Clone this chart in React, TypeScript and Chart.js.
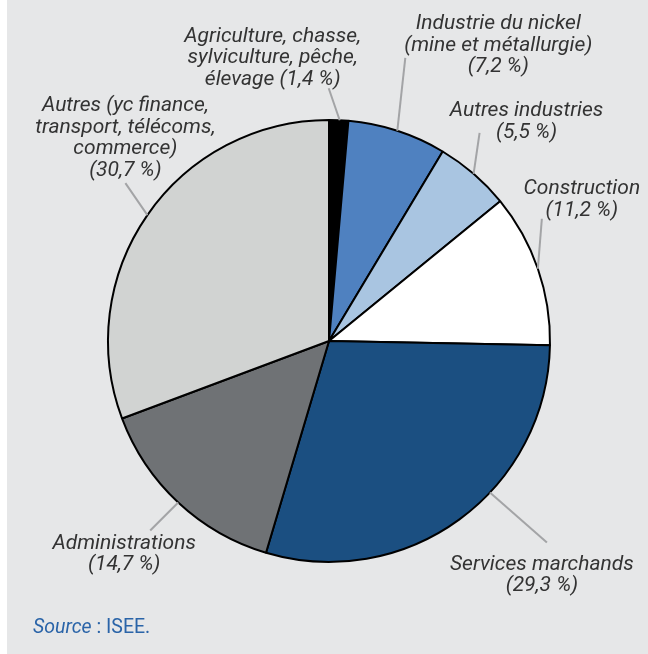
import React, { useEffect, useRef } from "react";
import { Chart, registerables } from "chart.js";

Chart.register(...registerables);

const categories: string[][] = [
  ["Agriculture, chasse,", "sylviculture, pêche,", "élevage (1,4 %)"],
  ["Industrie du nickel", "(mine et métallurgie)", "(7,2 %)"],
  ["Autres industries", "(5,5 %)"],
  ["Construction", "(11,2 %)"],
  ["Services marchands", "(29,3 %)"],
  ["Administrations", "(14,7 %)"],
  ["Autres (yc finance,", "transport, télécoms,", "commerce)", "(30,7 %)"],
];
const values: number[] = [1.4, 7.2, 5.5, 11.2, 29.3, 14.7, 30.7];
const colors: string[] = ["#000000", "#4f81c0", "#a9c5e1", "#ffffff", "#1b4f81", "#6f7275", "#d1d3d2"];

// layout of leader lines / labels (position along slice, line vector, text offset from line end)
const anchorT: number[] = [0.55, 0.5, 0.5, 0.5, 0.4, 0.5, 0.5];
const lineVec: number[][] = [[-11, -32], [8, -73], [6, -41], [4, -50], [57, 50], [-28, 28], [-22, -32]];
const textOff: number[][] = [[-56, -52], [93, -34], [47, -22], [40, -30], [-5, 22], [-26, 13], [0, -77]];
const LINE_H = 21.5;

const labelPlugin = {
  id: "leaderLabels",
  afterDraw(chart: any) {
    const ctx = chart.ctx;
    const meta = chart.getDatasetMeta(0);
    ctx.save();
    meta.data.forEach((arc: any, i: number) => {
      const p = arc.getProps(["x", "y", "startAngle", "endAngle", "outerRadius"], true);
      const a = p.startAngle + anchorT[i] * (p.endAngle - p.startAngle);
      const sx = p.x + p.outerRadius * Math.cos(a);
      const sy = p.y + p.outerRadius * Math.sin(a);
      const ex = sx + lineVec[i][0];
      const ey = sy + lineVec[i][1];
      ctx.beginPath();
      ctx.strokeStyle = "#a3a4a6";
      ctx.lineWidth = 2;
      ctx.moveTo(sx, sy);
      ctx.lineTo(ex, ey);
      ctx.stroke();
      ctx.fillStyle = "#333333";
      ctx.font = "italic 21px Roboto";
      ctx.textAlign = "center";
      ctx.textBaseline = "middle";
      categories[i].forEach((line, j) => {
        ctx.fillText(line, ex + textOff[i][0], ey + textOff[i][1] + j * LINE_H);
      });
    });
    ctx.restore();
  },
};

export default function App() {
  const ref = useRef<HTMLCanvasElement | null>(null);
  useEffect(() => {
    document.body.style.margin = "0";
    const chart = new Chart(ref.current as HTMLCanvasElement, {
      type: "pie",
      data: {
        labels: categories.map((c) => c.join(" ")),
        datasets: [
          {
            data: values,
            backgroundColor: colors,
            borderColor: "#000000",
            borderWidth: 2,
          },
        ],
      },
      options: {
        animation: false,
        responsive: false,
        radius: 221,
        layout: { padding: { left: 10, right: 0, top: 28, bottom: 0 } },
        plugins: { legend: { display: false }, tooltip: { enabled: false } },
      } as any,
      plugins: [labelPlugin],
    });
    return () => chart.destroy();
  }, []);
  return (
    <div style={{ position: "relative", width: 648, height: 654, background: "#ffffff" }}>
      <div style={{ position: "absolute", left: 7, top: 0, width: 641, height: 654, background: "#e6e7e8" }} />
      <canvas ref={ref} width={648} height={654} style={{ position: "absolute", left: 0, top: 0, width: 648, height: 654 }} />
      <div
        style={{
          position: "absolute",
          left: 33,
          top: 615,
          fontFamily: "Roboto",
          fontSize: 19.5,
          color: "#2a64a8",
          lineHeight: "24px",
        }}
      >
        <i>Source</i> : ISEE.
      </div>
    </div>
  );
}
